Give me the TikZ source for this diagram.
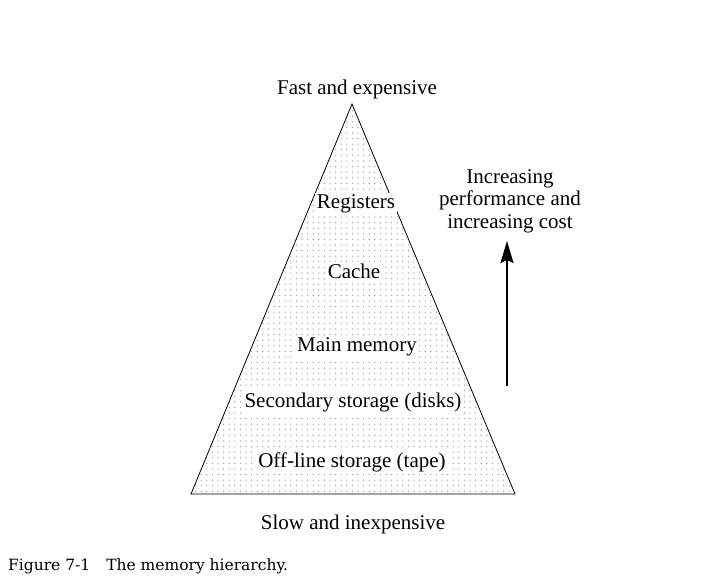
\documentclass[tikz,border=0pt]{standalone}
\usepackage{fontspec}
\setmainfont{Liberation Serif}
\newfontfamily\capfont{DejaVu Serif}
\usetikzlibrary{arrows.meta}
\tikzset{
	layer/.style = {fill = white, inner sep = 2pt, font = \fontsize{21}{24}\selectfont},
	endlabel/.style = {inner sep = 1pt, font = \fontsize{21}{24}\selectfont},
	dotty/.style = {fill = gray!85}
}
\begin{document}
\begin{tikzpicture}[x = 1pt, y = -1pt]
	\useasboundingbox[fill = white] (0,0) rectangle (714,582);
	\coordinate (apex) at (352,104);
	\coordinate (baseL) at (191,494);
	\coordinate (baseR) at (515,494);
	% dotted fill of the pyramid
	\begin{scope}
		\clip (apex) -- (baseR) -- (baseL) -- cycle;
		\foreach \i in {0,...,58} {
			\foreach \j in {0,...,70} {
				\fill[dotty] (190 + 5.6*\i, 105 + 5.6*\j) circle (0.65pt);
			}
		}
	\end{scope}
	\draw[line width = 0.8pt] (apex) -- (baseR) -- (baseL) -- cycle;
	\node[endlabel] (fast) at (357,89) {Fast and expensive};
	\node[endlabel] (slow) at (353,524) {Slow and inexpensive};
	\node[layer] (reg) at (356,204) {Registers};
	\node[layer] (cache) at (354,271) {Cache};
	\node[layer] (main) at (357,347) {Main memory};
	\node[layer] (disk) at (353,402) {Secondary storage (disks)};
	\node[layer] (tape) at (352,462) {Off-line storage (tape)};
	\node[endlabel, align = center, font = \fontsize{21}{22.5}\selectfont] (perf) at (510,201) {Increasing\\performance and\\increasing cost};
	\coordinate (arrowfoot) at (507,386);
	\coordinate (arrowtip) at (507,241);
	\draw[line width = 1.8pt, -{Stealth[length = 22pt, width = 13pt, inset = 3pt]}] (arrowfoot) -- (arrowtip);
	\node[anchor = west, inner sep = 0pt, font = \capfont\fontsize{15.5}{18}\selectfont] (caption) at (8,566) {Figure 7-1\hspace{16pt}The memory hierarchy.};
\end{tikzpicture}
\end{document}
